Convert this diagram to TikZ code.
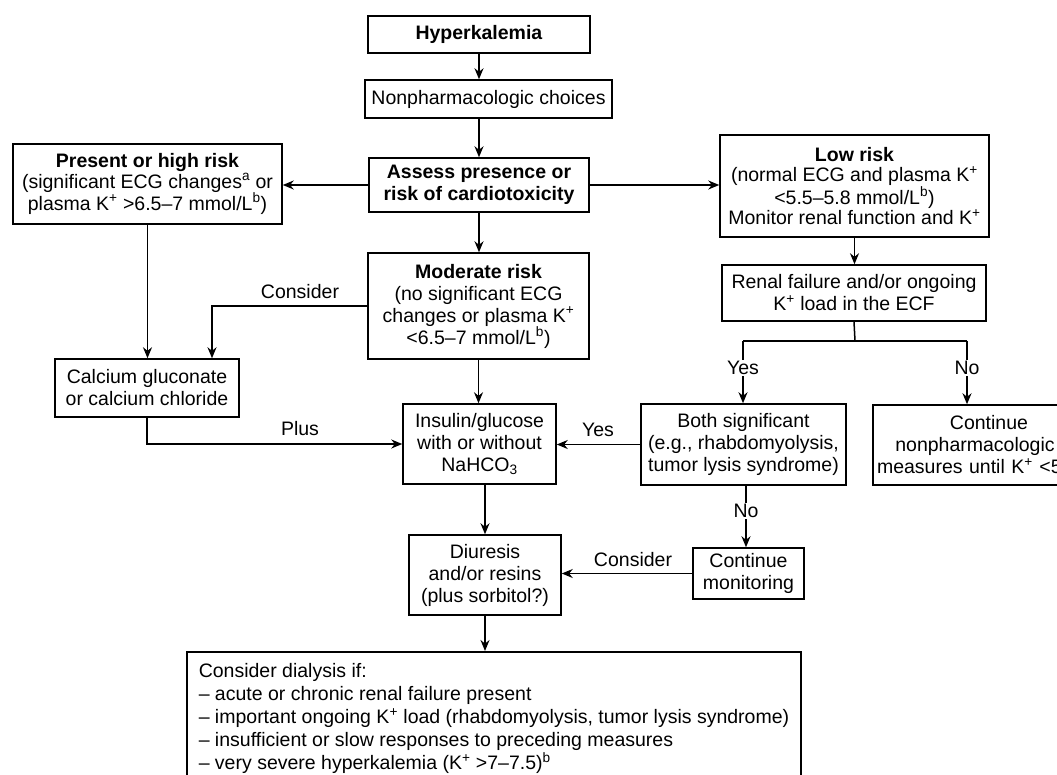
\documentclass[tikz,border=0pt]{standalone}
\usepackage{fontspec}
\setmainfont{Liberation Sans}
\usetikzlibrary{arrows.meta}
\newcommand{\fsz}{\fontsize{19.5}{22}\selectfont}
\newcommand{\Kp}{K\textsuperscript{+}}
\tikzset{
  box/.style={draw, line width=1.5pt, inner sep=0pt, align=center, font=\fsz},
  lbl/.style={inner sep=1pt, font=\fsz},
  arr/.style={line width=1.5pt, -{Stealth[length=11pt,width=9pt]}},
  ln/.style={line width=1.5pt},
}
\begin{document}
\begin{tikzpicture}[x=1pt,y=-1pt]
\useasboundingbox (0,0) rectangle (1057,775);
\clip (0,0) rectangle (1057,775);
\fill[white] (0,0) rectangle (1057,775);

\node[box,minimum width=222pt,minimum height=37pt] (hyp) at (479,34.5) {\textbf{Hyperkalemia}};
\node[box,minimum width=247pt,minimum height=38pt] (nonph) at (488.5,99) {Nonpharmacologic choices};
\node[box,minimum width=220pt,minimum height=54pt] (assess) at (479,185) {\textbf{Assess presence or}\\\textbf{risk of cardiotoxicity}};
\node[box,minimum width=269pt,minimum height=80pt,font=\fontsize{19.5}{20.5}\selectfont] (present) at (147.5,184)
  {\textbf{Present or high risk}\\(significant ECG changes\textsuperscript{a} or\\plasma \Kp{} >6.5–7 mmol/L\textsuperscript{b})};
\node[box,minimum width=269pt,minimum height=102pt,font=\fontsize{19.5}{20.5}\selectfont] (low) at (854.5,186)
  {\textbf{Low risk}\\(normal ECG and plasma \Kp\\<5.5–5.8 mmol/L\textsuperscript{b})\\Monitor renal function and \Kp};
\node[box,minimum width=221pt,minimum height=106pt] (moderate) at (478.5,306)
  {\textbf{Moderate risk}\\(no significant ECG\\changes or plasma \Kp\\<6.5–7 mmol/L\textsuperscript{b})};
\node[box,minimum width=264pt,minimum height=56pt] (renal) at (854,293) {Renal failure and/or ongoing\\\Kp{} load in the ECF};
\node[box,minimum width=184pt,minimum height=58pt] (calcium) at (147,388) {Calcium gluconate\\or calcium chloride};
\node[box,minimum width=153pt,minimum height=80pt] (insulin) at (479.5,444) {Insulin/glucose\\with or without\\NaHCO\textsubscript{3}};
\node[box,minimum width=205pt,minimum height=81pt] (both) at (743.5,444.5) {Both significant\\(e.g., rhabdomyolysis,\\tumor lysis syndrome)};
\node[box,minimum width=204pt,minimum height=80pt,text width=196pt] (cnp) at (975,445)
  {\hspace*{28pt}Continue\\nonpharmacologic\\\makebox[\linewidth][l]{measures until \Kp{} <5}};
\node[box,minimum width=111pt,minimum height=51pt] (monit) at (748.5,573.5) {Continue\\monitoring};
\node[box,minimum width=152pt,minimum height=80pt] (diur) at (485,575) {Diuresis\\and/or resins\\(plus sorbitol?)};
\node[box,anchor=north west,align=left,minimum width=610pt,inner xsep=12pt,inner ysep=12pt,font=\fontsize{19.5}{23}\selectfont] (dial) at (186,651)
  {Consider dialysis if:\\
   – acute or chronic renal failure present\\
   – important ongoing \Kp{} load (rhabdomyolysis, tumor lysis syndrome)\\
   – insufficient or slow responses to preceding measures\\
   – very severe hyperkalemia (\Kp{} >7–7.5)\textsuperscript{b}};

% labels
\node[lbl] (consider1) at (300,292) {Consider};
\node[lbl] (plus) at (300,429) {Plus};
\node[lbl] (yes1) at (743,368) {Yes};
\node[lbl] (no1) at (967,368) {No};
\node[lbl] (yes2) at (598,430) {Yes};
\node[lbl] (no2) at (746,511) {No};
\node[lbl] (consider2) at (633,560) {Consider};

\coordinate (cx) at (212,300);
\coordinate (split) at (855,341);

% connectors
\draw[arr] (hyp.south) -- (hyp.south |- nonph.north);
\draw[arr] (nonph.south -| assess) -- (assess.north);
\draw[arr] (assess.west) -- (present.east |- assess.west);
\draw[arr] (assess.east) -- (low.west |- assess.east);
\draw[arr] (assess.south) -- (assess.south |- moderate.north);
\draw[arr] (low.south) -- (low.south |- renal.north);
\draw[arr] (present.south) -- (present.south |- calcium.north);
\draw[arr] (moderate.west) -| (cx |- calcium.north);
\draw[arr] (calcium.south) |- (insulin.west);
\draw[arr] (moderate.south) -- (moderate.south |- insulin.north);
\draw[ln] (renal.south) -- (split);
\draw[ln] (yes1.north |- split) -- (no1.north |- split);
\draw[ln] (yes1.north |- split) -- (yes1.north);
\draw[ln] (no1.north |- split) -- (no1.north);
\draw[arr] (yes1.south) -- (yes1.south |- both.north);
\draw[arr] (no1.south) -- (no1.south |- cnp.north);
\draw[arr] (both.west) -- (both.west -| insulin.east);
\draw[ln] (both.south -| no2) -- (no2.north);
\draw[arr] (no2.south) -- (no2.south |- monit.north);
\draw[arr] (monit.west) -- (monit.west -| diur.east);
\draw[arr] (diur.north |- insulin.south) -- (diur.north);
\draw[arr] (diur.south) -- (diur.south |- dial.north);
\end{tikzpicture}
\end{document}
